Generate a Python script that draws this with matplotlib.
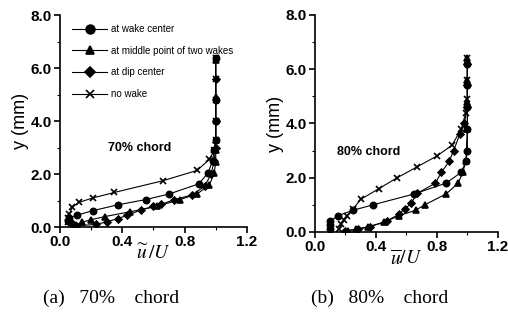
import matplotlib.pyplot as plt
from matplotlib.ticker import MultipleLocator, FormatStrFormatter

# 70% chord
u70_wake = [0.10, 0.07, 0.05, 0.06, 0.11, 0.21, 0.37, 0.55, 0.70, 0.89, 0.95, 0.98, 0.99, 1.0, 1.0, 1.0, 1.0]
y70_wake = [0.05, 0.15, 0.25, 0.35, 0.45, 0.62, 0.84, 1.04, 1.25, 1.63, 2.04, 2.5, 2.9, 3.3, 4.0, 4.8, 6.4]
u70_mid = [0.10, 0.14, 0.20, 0.29, 0.45, 0.62, 0.77, 0.88, 0.96, 0.99, 1.0, 1.0, 1.0, 1.0, 1.0]
y70_mid = [0.08, 0.18, 0.28, 0.40, 0.58, 0.78, 1.04, 1.25, 1.60, 2.04, 2.45, 2.9, 3.3, 4.9, 6.3]
u70_dip = [0.10, 0.23, 0.30, 0.37, 0.43, 0.52, 0.60, 0.65, 0.73, 0.85, 0.93, 0.97, 0.99, 1.0, 1.0, 1.0]
y70_dip = [0.05, 0.10, 0.20, 0.32, 0.44, 0.65, 0.78, 0.86, 1.03, 1.22, 1.55, 2.0, 2.5, 3.0, 4.0, 5.6]
u70_no = [0.05, 0.05, 0.06, 0.08, 0.12, 0.21, 0.35, 0.66, 0.88, 0.96, 0.99, 1.0, 1.0, 1.0, 1.0, 1.0]
y70_no = [0.20, 0.35, 0.50, 0.75, 0.93, 1.10, 1.31, 1.75, 2.14, 2.56, 2.9, 3.3, 4.0, 4.8, 5.6, 6.4]

# 80% chord
u80_wake = [0.10, 0.10, 0.10, 0.15, 0.25, 0.38, 0.65, 0.86, 0.96, 0.99, 1.0, 1.0, 1.0, 1.0, 1.0]
y80_wake = [0.10, 0.25, 0.40, 0.60, 0.80, 1.00, 1.40, 1.80, 2.20, 2.60, 3.0, 3.8, 4.6, 5.4, 6.2]
u80_mid = [0.22, 0.27, 0.35, 0.45, 0.55, 0.66, 0.72, 0.86, 0.94, 0.97, 0.99, 1.0, 1.0, 1.0, 1.0]
y80_mid = [0.05, 0.10, 0.20, 0.35, 0.60, 0.80, 1.00, 1.40, 1.80, 2.20, 2.60, 3.8, 4.8, 5.6, 6.4]
u80_dip = [0.20, 0.28, 0.36, 0.47, 0.55, 0.59, 0.63, 0.67, 0.79, 0.83, 0.88, 0.91, 0.95, 0.98, 1.0, 1.0, 1.0]
y80_dip = [0.05, 0.10, 0.19, 0.40, 0.65, 0.85, 1.05, 1.42, 1.80, 2.20, 2.60, 3.00, 3.60, 4.00, 4.6, 5.4, 6.2]
u80_no = [0.16, 0.17, 0.19, 0.21, 0.25, 0.30, 0.42, 0.54, 0.67, 0.80, 0.90, 0.96, 0.99, 1.0, 1.0, 1.0]
y80_no = [0.10, 0.30, 0.45, 0.60, 0.85, 1.20, 1.60, 2.00, 2.40, 2.80, 3.20, 3.80, 4.40, 4.9, 5.6, 6.4]

labels = ['at wake center', 'at middle point of two wakes', 'at dip center', 'no wake']
markers = ['o', '^', 'D', 'x']
sizes = [4.5, 4.5, 3.5, 4.5]

plt.rcParams['mathtext.fontset'] = 'stix'

fig = plt.figure(figsize=(5.08, 3.24), dpi=100)
ax1 = fig.add_axes([0.118, 0.299, 0.368, 0.654])
ax2 = fig.add_axes([0.620, 0.284, 0.360, 0.670])

data70 = [(u70_wake, y70_wake), (u70_mid, y70_mid), (u70_dip, y70_dip), (u70_no, y70_no)]
data80 = [(u80_wake, y80_wake), (u80_mid, y80_mid), (u80_dip, y80_dip), (u80_no, y80_no)]

for ax, data in [(ax1, data70), (ax2, data80)]:
    for (u, y), m, s, lab in zip(data, markers, sizes, labels):
        ax.plot(u, y, color='black', lw=0.8, marker=m, ms=s, mew=1.2, label=lab)
    ax.set_xlim(0, 1.2)
    ax.set_ylim(0, 8)
    ax.spines['top'].set_visible(False)
    ax.spines['right'].set_visible(False)
    ax.spines['left'].set_linewidth(1.2)
    ax.spines['bottom'].set_linewidth(1.2)
    ax.xaxis.set_major_locator(MultipleLocator(0.4))
    ax.xaxis.set_minor_locator(MultipleLocator(0.2))
    ax.yaxis.set_major_locator(MultipleLocator(2))
    ax.yaxis.set_minor_locator(MultipleLocator(1))
    ax.xaxis.set_major_formatter(FormatStrFormatter('%.1f'))
    ax.yaxis.set_major_formatter(FormatStrFormatter('%.1f'))
    ax.tick_params(which='major', length=4, width=1.2, pad=2)
    ax.tick_params(which='minor', length=2, width=0.8)
    for t in ax.get_xticklabels() + ax.get_yticklabels():
        t.set_family('Liberation Sans')
        t.set_fontweight('bold')
        t.set_fontsize(11)
    ax.set_ylabel('y (mm)', family='Liberation Sans', fontsize=13, labelpad=1)

ax1.set_xlabel(r'$\widetilde{u}\,/U$', fontsize=14, labelpad=-4)
ax2.set_xlabel(r'$\overline{u}/U$', fontsize=14, labelpad=-4)

ax1.text(0.31, 3.0, '70% chord', family='Liberation Sans', fontweight='bold', fontsize=9, va='center')
ax2.text(0.145, 2.95, '80% chord', family='Liberation Sans', fontweight='bold', fontsize=9, va='center')

leg = ax1.legend(loc='upper left', bbox_to_anchor=(0.02, 1.0), frameon=False, handlelength=3.6,
                 handletextpad=0.4, prop={'family': 'Liberation Sans', 'size': 7},
                 labelspacing=1.2, markerscale=1.4)

fig.text(0.219, 0.08, '(a)   70%    chord', family='Liberation Serif', fontsize=14, ha='center', va='center')
fig.text(0.748, 0.08, '(b)   80%    chord', family='Liberation Serif', fontsize=14, ha='center', va='center')

fig.savefig('out.png', dpi=100)
